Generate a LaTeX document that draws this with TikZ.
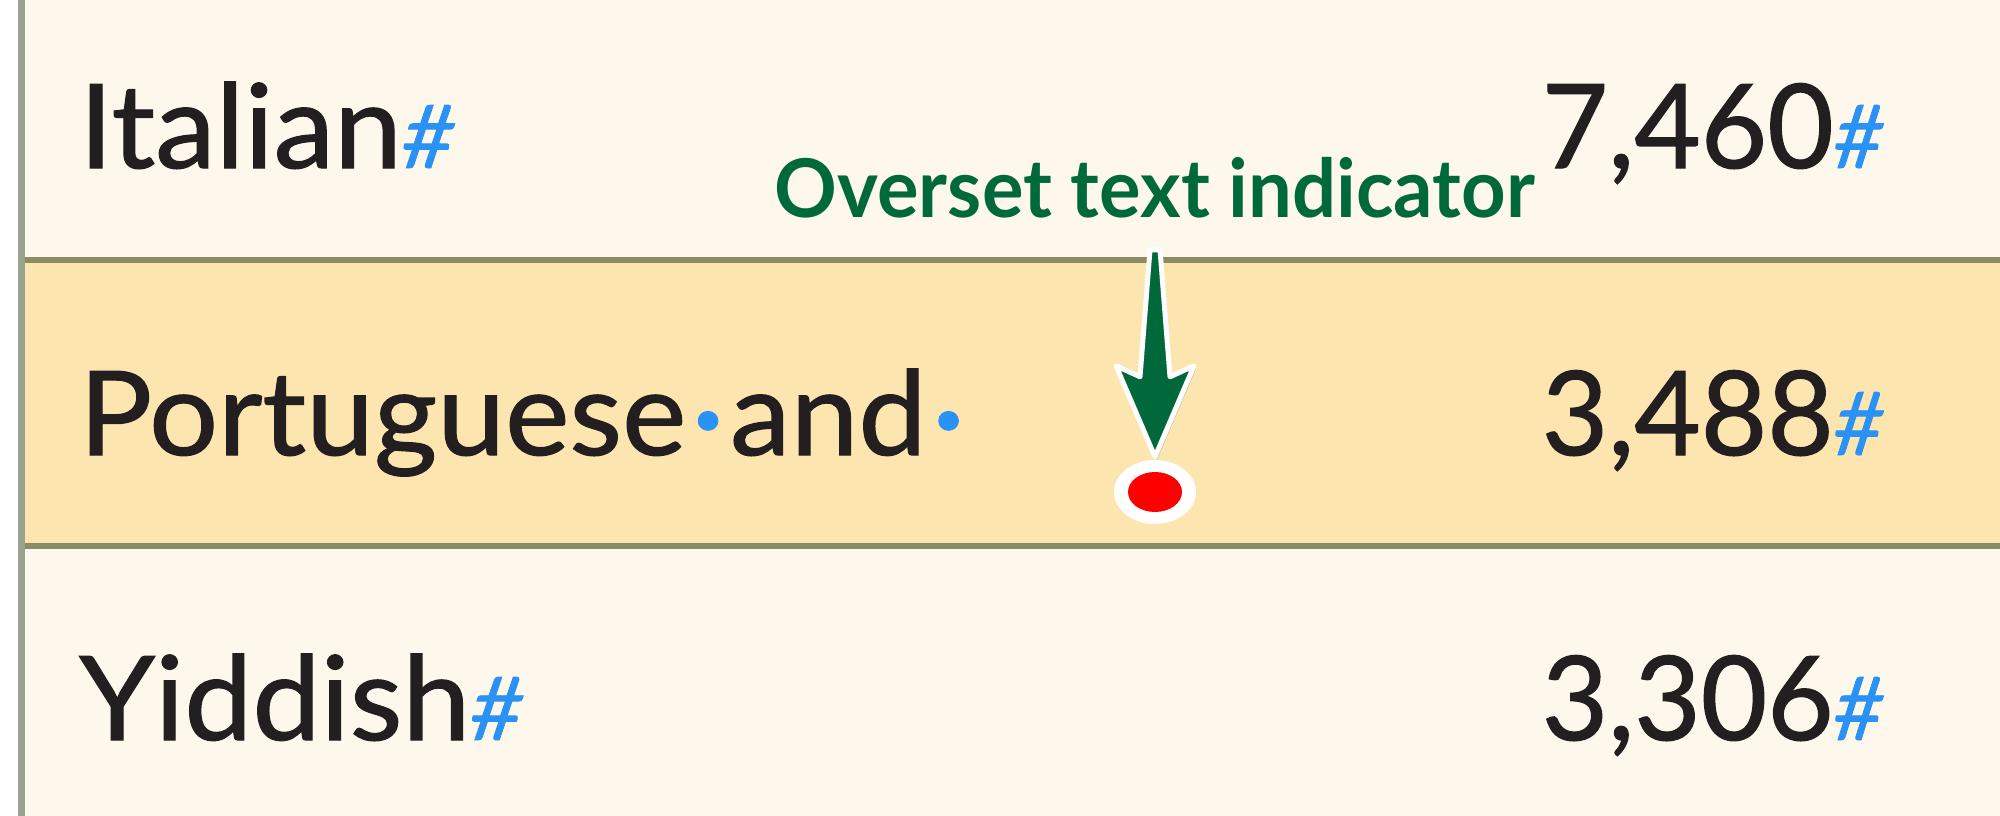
\documentclass[tikz,border=0pt]{standalone}
\usepackage{fontspec}
\setmainfont{Lato}
\newfontfamily\rowfont{Lato}[FakeBold=1, FakeStretch=1.04]
\newfontfamily\numfont{Lato}[FakeBold=1, FakeStretch=0.98]
\newfontfamily\labelfont{Lato Bold}[FakeStretch=0.96]
\usetikzlibrary{shapes.geometric}
\definecolor{cream}{RGB}{254,248,236}
\definecolor{rowyellow}{RGB}{253,229,176}
\definecolor{rulecol}{RGB}{138,140,100}
\definecolor{vlinecol}{RGB}{152,162,142}
\definecolor{ink}{RGB}{35,31,32}
\definecolor{hashblue}{RGB}{42,145,245}
\definecolor{labelgreen}{RGB}{0,105,60}
\definecolor{arrowgreen}{RGB}{0,104,58}
\definecolor{dotred}{RGB}{255,0,0}
\newcommand{\hsh}{{\fontsize{88}{90}\selectfont\itshape\color{hashblue}\#}}
\newcommand{\spdot}{\makebox[44pt]{\raisebox{-3pt}{\color{hashblue}\fontsize{125}{125}\selectfont·}}}
\tikzset{
  rowtxt/.style={inner sep=0pt, font=\rowfont\fontsize{117}{130}\selectfont, text=ink},
  numtxt/.style={inner sep=0pt, font=\numfont\fontsize{117}{130}\selectfont, text=ink},
  rowrule/.style={draw=rulecol, line width=6pt},
  labeltxt/.style={inner sep=0pt, font=\labelfont\fontsize{81}{90}\selectfont, text=labelgreen},
  fatarrow/.style={fill=arrowgreen, draw=white, line width=5pt, line join=round},
  arrowshadow/.style={fill=black, opacity=0.18},
}
\begin{document}
\begin{tikzpicture}[x=1pt,y=-1pt]
\useasboundingbox (0,0) rectangle (2000,816);
\fill[white] (0,0) rectangle (2000,816);
% rows
\fill[cream] (25,0) rectangle (2000,260);
\fill[rowyellow] (25,260) rectangle (2000,546);
\fill[cream] (25,546) rectangle (2000,816);
\draw[rowrule] (25,260) -- (2000,260);
\draw[rowrule] (25,546) -- (2000,546);
\fill[vlinecol] (18,0) rectangle (25,816);
% row texts
\node[rowtxt, anchor=base west] (italian) at (79,168) {Italian\hsh};
\node[numtxt, anchor=base east] (n7460) at (1884,168) {7,460\hsh};
\node[rowtxt, anchor=base west] (portuguese) at (79,455) {Portuguese\spdot and\spdot};
\node[numtxt, anchor=base east] (n3488) at (1884,455) {3,488\hsh};
\node[rowtxt, anchor=base west] (yiddish) at (79,740) {Yiddish\hsh};
\node[numtxt, anchor=base east] (n3306) at (1884,740) {3,306\hsh};
% label
\node[labeltxt, anchor=base] (label) at (1155,217) {Overset text indicator};
% overset indicator
\node[ellipse, fill=white, minimum width=82pt, minimum height=64pt, inner sep=0pt] (dot) at (1155,492) {};
\node[ellipse, fill=dotred, minimum width=54pt, minimum height=40pt, inner sep=0pt] (dotin) at (dot.center) {};
% fat arrow from label to indicator
\begin{scope}[shift={(dot.north)}]
  \fill[arrowshadow, shift={(2,3)}] (-5,-210) -- (5,-210) -- (15,-83) -- (39,-94) -- (0,-3) -- (-39,-94) -- (-15,-83) -- cycle;
  \draw[fatarrow] (-5,-210) -- (5,-210) -- (15,-83) -- (39,-94) -- (0,-3) -- (-39,-94) -- (-15,-83) -- cycle;
\end{scope}
\end{tikzpicture}
\end{document}
